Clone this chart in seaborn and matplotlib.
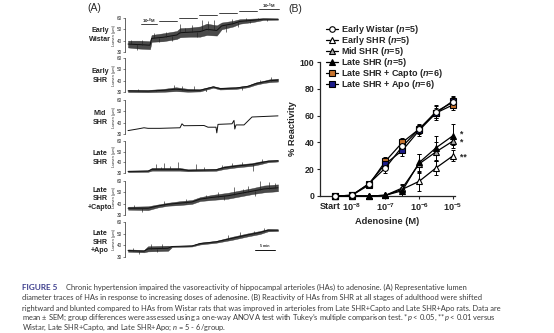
import numpy as np
import pandas as pd
import matplotlib
matplotlib.use("Agg")
import matplotlib.pyplot as plt
import matplotlib.transforms as mtransforms
from matplotlib.lines import Line2D
import seaborn as sns

sns.set_style("ticks")
plt.rcParams["font.family"] = ["Liberation Sans", "DejaVu Sans"]
plt.rcParams["mathtext.fontset"] = "custom"
plt.rcParams["mathtext.rm"] = "Liberation Sans:bold"
plt.rcParams["mathtext.bfit"] = "Liberation Sans:bold:italic"
plt.rcParams["mathtext.it"] = "Lato:italic"

# ---------------- Panel B data: % reactivity vs adenosine ----------------
conc_names = ["Start", "1e-8", "3e-8", "1e-7", "3e-7", "1e-6", "3e-6", "1e-5"]
log_conc = [-8.5, -8.0, -7.5, -7.0, -6.5, -6.0, -5.5, -5.0]

wistar_mean = [0, 0.5, 9, 21, 37, 50, 63, 70]
wistar_sem = [0, 0.5, 2, 4, 4, 3, 5, 4]
early_shr_mean = [0, 0, 0, 0.5, 5, 11, 21, 30]
early_shr_sem = [0, 0, 0, 0.5, 2, 7, 5, 4]
mid_shr_mean = [0, 0, 0, 0.5, 6, 24, 33, 41]
mid_shr_sem = [0, 0, 0, 0.5, 3, 7, 7, 3]
late_shr_mean = [0, 0, 0, 0.5, 4, 25, 36, 45]
late_shr_sem = [0, 0, 0, 0.5, 4, 6, 9, 9]
capto_mean = [0, 0.5, 8, 26, 40, 50, 62, 68]
capto_sem = [0, 0.5, 2, 3, 3, 4, 5, 4]
apo_mean = [0, 0.5, 9, 24, 34, 49, 62, 71]
apo_sem = [0, 0.5, 2, 3, 4, 4, 4, 4]

group_labels = [
    r"Early Wistar ($\mathbfit{n}$=5)",
    r"Early SHR ($\mathbfit{n}$=5)",
    r"Mid SHR ($\mathbfit{n}$=5)",
    r"Late SHR ($\mathbfit{n}$=5)",
    r"Late SHR + Capto ($\mathbfit{n}$=6)",
    r"Late SHR + Apo ($\mathbfit{n}$=6)",
]
sig_marks = ["*", "*", "**"]
sig_levels = [46, 40.5, 29]

# ---------------- Panel A data: lumen diameter traces (µm vs min) ----------------
trace_names = ["Early\nWistar", "Early\nSHR", "Mid\nSHR", "Late\nSHR",
               "Late\nSHR\n+Capto", "Late\nSHR\n+Apo"]

wistar_t = [0, 2.9, 5.5, 5.9, 8.8, 12.2, 13.0, 15.5, 18.0, 19.7, 22.2, 23.4, 26.3, 28, 31.3, 33.8, 37.5]
wistar_mid = [37, 36.5, 36, 42, 43, 45, 47, 47.5, 48, 50, 49, 53, 55, 57, 58, 59, 59]
wistar_hw = [3.0, 3.5, 3.5, 3.0, 3.5, 3.5, 4, 4, 4.5, 5, 4.5, 3, 2.5, 2, 1.5, 0.8, 0.5]
wistar_spk_t = [0.8, 2.2, 3.6, 6.4, 7.8, 9.5, 11.0, 13.0, 14.3, 16.0, 17.2, 18.4,
                20.1, 21.6, 24.5, 26.0, 27.5, 29.5, 30.6, 32.5, 34.8]
wistar_spk_v = [40.5, 31.5, 41, 47, 38.5, 48, 40, 55, 51, 54, 43, 58,
                57, 58, 48, 59, 52, 60, 56, 60, 57]

eshr_t = [0, 5, 9, 12, 15, 18, 21.3, 23, 27, 30, 32, 34, 35.5, 37.5]
eshr_mid = [31, 30.8, 31.5, 32.5, 31.5, 31.5, 34.5, 33, 33.5, 35, 37.5, 39, 40, 40.5]
eshr_hw = [1.0, 1.0, 1.3, 1.7, 1.3, 1.0, 0.7, 0.8, 0.8, 0.8, 1.0, 1.0, 1.3, 1.3]
eshr_spk_t = [2.5, 7.0, 11.5, 13.5, 16.5, 19.5, 28.5, 33.0, 35.8]
eshr_spk_v = [33, 29.5, 36, 35.5, 35, 29.8, 31.8, 40.5, 43]

mid_t = [0, 2.5, 4, 5, 8, 13, 13.5, 14, 19, 20, 22, 22.2, 22.5, 26, 26.5, 26.7, 27, 29, 31, 37.5]
mid_mid = [33, 34.5, 35.5, 35, 35, 35.5, 39, 37.3, 37.5, 36, 36, 31, 38.5, 39, 42, 34.4, 38, 38, 45, 46]

late_t = [0, 5, 6, 13, 15, 22, 24, 27, 31, 33, 35, 37.5]
late_mid = [31.5, 31.8, 33.5, 33.5, 32.5, 33, 35, 36.5, 38, 39.5, 41, 41.5]
late_hw = [0.7, 0.7, 1.3, 1.3, 0.9, 0.9, 1.3, 1.3, 1.3, 1.3, 0.9, 0.7]
late_spk_t = [7, 8.2, 9, 10.5, 12.5, 17, 19, 23.5, 26, 28.5, 31.3, 33.5]
late_spk_v = [38, 36, 39, 36.5, 40, 38.5, 36, 37.5, 39, 40, 32, 43]

capto_t = [0, 5, 7.5, 10, 13, 16, 18, 21, 25, 28, 31, 34, 37.5]
capto_mid = [36, 36, 38, 39.5, 40.5, 41.5, 44, 45.5, 47, 49, 51, 53, 54]
capto_hw = [1.3, 1.7, 1.3, 1.3, 1.7, 1.7, 1.7, 2.2, 2.6, 2.6, 2.6, 3.0, 3.0]
capto_spk_t = [1.5, 3.5, 9.0, 14.5, 19.5, 22.5, 24.0, 26.5, 28.8, 30, 31.8, 33, 35.2, 36.8]
capto_spk_v = [39, 33, 42, 44, 48, 50, 43, 55, 53, 56, 47, 60, 59, 58]

apo_t = [0, 4, 5, 10, 11, 16, 18, 22, 26, 30, 33, 35, 37.5]
apo_mid = [35.5, 35, 37, 37.5, 39, 39.5, 41.5, 43, 46, 49, 51, 53, 53]
apo_hw = [1.0, 1.0, 2.2, 2.2, 0.5, 0.5, 0.8, 0.8, 1.3, 1.3, 1.3, 1.0, 0.7]
apo_spk_t = [1.2, 2.8, 5.8, 7.2, 8.6, 25.0, 28.0, 31.5, 34.0]
apo_spk_v = [38, 33, 41, 34, 41, 48.5, 51, 52.5, 55]

dose_start = [3, 7.5, 12.5, 17.5, 22.5, 27.5, 32.5]
dose_end = [7.5, 12.5, 17.5, 22.5, 27.5, 32.5, 38]
dose_level = [55, 57.7, 60.3, 63, 64.8, 66.6, 68.0]

W, H = 554, 333
fig = plt.figure(figsize=(W / 100, H / 100), dpi=100)


def box(x0, y0, x1, y1):
    """Pixel box (top-left origin) to figure-fraction rect."""
    return [x0 / W, 1 - y1 / H, (x1 - x0) / W, (y1 - y0) / H]


# ---------------- Panel A ----------------
tops = [18, 58, 100, 141, 181, 222]
bots = [52, 92, 134, 173, 215, 257]
label_y = [35, 76, 118, 158, 199, 242]

traces = [
    (wistar_t, wistar_mid, wistar_hw, wistar_spk_t, wistar_spk_v),
    (eshr_t, eshr_mid, eshr_hw, eshr_spk_t, eshr_spk_v),
    (mid_t, mid_mid, None, [], []),
    (late_t, late_mid, late_hw, late_spk_t, late_spk_v),
    (capto_t, capto_mid, capto_hw, capto_spk_t, capto_spk_v),
    (apo_t, apo_mid, apo_hw, apo_spk_t, apo_spk_v),
]

trace_axes = []
for i, (t, mid, hw, st, sv) in enumerate(traces):
    ax = fig.add_axes(box(125, tops[i], 280, bots[i]))
    df = pd.DataFrame({"t": t, "d": mid})
    if hw is not None:
        lo = np.array(mid) - np.array(hw)
        hi = np.array(mid) + np.array(hw)
        ax.fill_between(t, lo, hi, color="#2a2a2a", lw=0.3, alpha=0.85)
    sns.lineplot(data=df, x="t", y="d", ax=ax, color="#111111", lw=0.7,
                 errorbar=None)
    if st:
        base = np.interp(st, t, mid)
        ax.vlines(st, base, sv, color="#222222", lw=0.45)
    ax.set_xlim(-0.75, 38)
    ax.set_ylim(30, 60)
    ax.set_yticks([30, 40, 50, 60])
    ax.tick_params(axis="y", labelsize=3.3, length=1.5, width=0.4, pad=0.5)
    ax.set_xticks([])
    ax.set_xlabel("")
    ax.set_ylabel("Lumen (µm)", fontsize=2.8, labelpad=0.8)
    for s in ["top", "right", "bottom"]:
        ax.spines[s].set_visible(False)
    ax.spines["left"].set_linewidth(0.5)
    ax.patch.set_alpha(0)
    fig.text(100 / W, 1 - label_y[i] / H, trace_names[i], ha="center",
             va="center", fontsize=5.1, fontweight="bold", linespacing=1.25,
             color="#222222")
    trace_axes.append(ax)

# dose bars above the Wistar trace
axw = trace_axes[0]
for xs, xe, lv in zip(dose_start, dose_end, dose_level):
    axw.plot([xs + 0.15, xe - 0.15], [lv, lv], color="#222222", lw=0.6,
             clip_on=False)
axw.text((dose_start[0] + dose_end[0]) / 2, dose_level[0] + 2.3, r"10$^{-8}$M",
         fontsize=3.2, fontweight="bold", ha="center", va="center")
axw.text((dose_start[-1] + dose_end[-1]) / 2, dose_level[-1] + 2.3, r"10$^{-5}$M",
         fontsize=3.2, fontweight="bold", ha="center", va="center")

# 5 min scale bar
axa = trace_axes[-1]
axa.plot([31.75, 36.75], [36, 36], color="#111111", lw=0.7, clip_on=False)
axa.text(34.25, 37.3, "5 min", fontsize=2.6, fontweight="bold", ha="center",
         va="bottom")

fig.text(87 / W, 1 - 8 / H, "(A)", fontsize=7.5, ha="left", va="center")
fig.text(288 / W, 1 - 9 / H, "(B)", fontsize=7.5, ha="left", va="center")

# ---------------- Panel B ----------------
axb = fig.add_axes(box(320, 62, 455, 196))
groups = [
    ("Early SHR", early_shr_mean, early_shr_sem, "^", "white"),
    ("Mid SHR", mid_shr_mean, mid_shr_sem, "^", "#a8a8a8"),
    ("Late SHR", late_shr_mean, late_shr_sem, "^", "black"),
    ("Capto", capto_mean, capto_sem, "s", "#c8742e"),
    ("Apo", apo_mean, apo_sem, "s", "#1b1b8a"),
    ("Wistar", wistar_mean, wistar_sem, "o", "white"),
]
for name, m, e, mk, fc in groups:
    df = pd.DataFrame({"x": log_conc, "y": m})
    sns.lineplot(data=df, x="x", y="y", ax=axb, color="black", lw=0.9,
                 marker=mk, markersize=4.2, markerfacecolor=fc,
                 markeredgecolor="black", markeredgewidth=0.8,
                 errorbar=None, clip_on=False, zorder=3)
    axb.errorbar(log_conc, m, yerr=e, fmt="none", ecolor="black",
                 elinewidth=0.7, capsize=1.6, capthick=0.7, zorder=2,
                 clip_on=False)

for mark, lv in zip(sig_marks, sig_levels):
    axb.text(-4.78, lv, mark, fontsize=6.2, fontweight="bold", ha="left",
             va="center")

axb.set_xlim(-8.94, -4.94)
axb.set_ylim(0, 100)
axb.set_xticks([-8.5, -8, -7, -6, -5])
axb.set_xticklabels(["Start", r"10$^{-8}$", r"10$^{-7}$", r"10$^{-6}$",
                     r"10$^{-5}$"])
axb.set_yticks([0, 20, 40, 60, 80, 100])
axb.tick_params(axis="y", labelsize=6.3, length=2.5, width=0.8, pad=1.5)
axb.tick_params(axis="x", labelsize=6.6, length=2.5, width=0.8, pad=1.5)
for lab in axb.get_xticklabels() + axb.get_yticklabels():
    lab.set_fontweight("bold")
# nudge the "Start" label left so it clears the 10^-8 label
start_lab = axb.get_xticklabels()[0]
start_lab.set_transform(start_lab.get_transform() +
                        mtransforms.ScaledTranslation(-5 / 100, 0,
                                                      fig.dpi_scale_trans))
axb.set_xlabel("Adenosine (M)", fontsize=6.7, fontweight="bold", labelpad=3)
axb.set_ylabel("% Reactivity", fontsize=6.7, fontweight="bold", labelpad=2)
sns.despine(ax=axb)
axb.spines["left"].set_linewidth(0.9)
axb.spines["bottom"].set_linewidth(0.9)

handles = []
for (name, m, e, mk, fc), lab in zip(
        [groups[5], groups[0], groups[1], groups[2], groups[3], groups[4]],
        group_labels):
    handles.append(Line2D([], [], color="black", lw=0.9, marker=mk,
                          markersize=4, markerfacecolor=fc,
                          markeredgecolor="black", markeredgewidth=0.8,
                          label=lab))
fig.legend(handles=handles, loc="upper left",
           bbox_to_anchor=(326 / W, 1 - 23 / H), frameon=False,
           prop={"size": 6.5, "weight": "bold"}, handlelength=1.3,
           handletextpad=0.4, labelspacing=-0.22, borderaxespad=0,
           borderpad=0)

# ---------------- Caption ----------------
cap_font = ["Lato", "DejaVu Sans"]
cap_color = "#3a3a3a"
cap_lines = [
    "Chronic hypertension impaired the vasoreactivity of hippocampal arterioles (HAs) to adenosine. (A) Representative lumen",
    "diameter traces of HAs in response to increasing doses of adenosine. (B) Reactivity of HAs from SHR at all stages of adulthood were shifted",
    "rightward and blunted compared to HAs from Wistar rats that was improved in arterioles from Late SHR+Capto and Late SHR+Apo rats. Data are",
    r"mean ± SEM; group differences were assessed using a one-way ANOVA test with Tukey’s multiple comparison test. *$p$ < 0.05, **$p$ < 0.01 versus",
    r"Wistar, Late SHR+Capto, and Late SHR+Apo; $n$ = 5 - 6/group.",
]
cap_y = [287, 297.5, 308, 318, 328]
fig.text(22 / W, 1 - cap_y[0] / H, "FIGURE 5", fontsize=5.9, fontweight="bold",
         color="#3b3c8c", family=cap_font, va="center", ha="left")
fig.text(66 / W, 1 - cap_y[0] / H, cap_lines[0], fontsize=5.4,
         color=cap_color, family=cap_font, va="center", ha="left")
for line, yy in zip(cap_lines[1:], cap_y[1:]):
    fig.text(22 / W, 1 - yy / H, line, fontsize=5.4, color=cap_color,
             family=cap_font, va="center", ha="left")

fig.savefig("out.png", dpi=100)
